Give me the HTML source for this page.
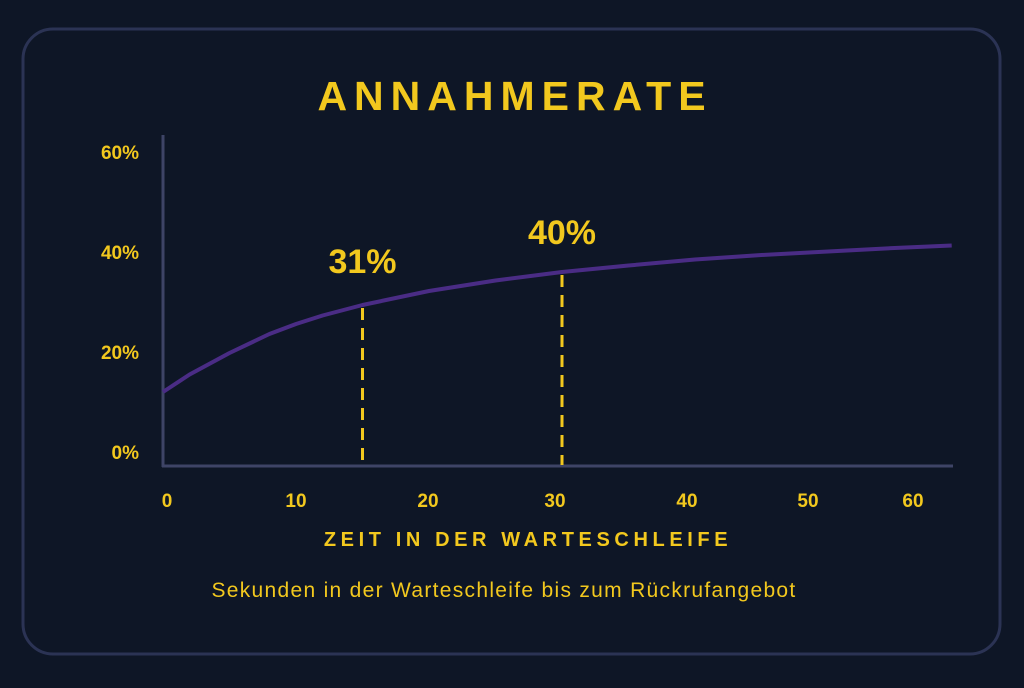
<!DOCTYPE html>
<html><head><meta charset="utf-8"><style>
html,body{margin:0;padding:0;background:#0e1626;}
body{width:1024px;height:683px;overflow:hidden;font-family:"Liberation Sans",sans-serif;}
</style></head><body>
<svg id="chart" width="1024" height="683" viewBox="0 0 1024 683" xmlns="http://www.w3.org/2000/svg">
<rect x="0" y="0" width="1024" height="683" fill="#0e1626"/>
<rect x="23" y="29" width="977" height="625" rx="30" fill="none" stroke="#2b3354" stroke-width="3"/>
<text x="515" y="110" text-anchor="middle" fill="#f2c81e" font-size="41" font-weight="bold" letter-spacing="7">ANNAHMERATE</text>
<text x="528" y="546" text-anchor="middle" fill="#f2c81e" font-size="20" font-weight="bold" letter-spacing="4.6">ZEIT IN DER WARTESCHLEIFE</text>
<text x="504" y="597" text-anchor="middle" fill="#f2c81e" font-size="21" letter-spacing="1.3">Sekunden in der Warteschleife bis zum Rückrufangebot</text>
<g id="plot"></g>
</svg>
<script>
const xTicks=[0,10,20,30,40,50,60];
const xTickPos=[167,296,428,555,687,808,913];
const yTicks=[0,20,40,60];
const curveX=[0,2,5,8,10,12,15,20,25,30,35,40,45,50,55,59.3];
const curveY=[12,15.5,19.8,23.6,25.6,27.3,29.4,32.2,34.3,36,37.3,38.5,39.4,40.1,40.8,41.3];
const markerX=[15,30];
const markerLabels=["31%","40%"];
const NS="http://www.w3.org/2000/svg";
const g=document.getElementById('plot');
const x=v=>163+v*13.3;
const y=p=>452-p*5;
function mk(t,a){const e=document.createElementNS(NS,t);for(const k in a)e.setAttribute(k,a[k]);g.appendChild(e);return e;}
let e=mk('line',{x1:163,y1:135,x2:163,y2:467,stroke:'#3e4466','stroke-width':3});


e=mk('line',{x1:162,y1:466,x2:953,y2:466,stroke:'#3e4466','stroke-width':3});


yTicks.forEach(t=>{const el=mk('text',{x:139,y:y(t)+7,'text-anchor':'end',fill:'#f2c81e','font-size':19,'font-weight':'bold'});el.textContent=t+'%';

});
xTicks.forEach((t,i)=>{const el=mk('text',{x:xTickPos[i],y:507,'text-anchor':'middle',fill:'#f2c81e','font-size':19,'font-weight':'bold'});el.textContent=t;

});
function interp(v){for(let i=0;i<curveX.length-1;i++){if(v<=curveX[i+1]){const f=(v-curveX[i])/(curveX[i+1]-curveX[i]);return curveY[i]+f*(curveY[i+1]-curveY[i]);}}return curveY[curveY.length-1];}
markerX.forEach((m,i)=>{const py=y(interp(m));
const l=mk('line',{x1:x(m),y1:py+3,x2:x(m),y2:465,stroke:'#f2c81e','stroke-width':3,'stroke-dasharray':'12 8'});


const t=mk('text',{x:x(m),y:i==0?py-32:py-28,'text-anchor':'middle',fill:'#f2c81e','font-size':34,'font-weight':'bold'});t.textContent=markerLabels[i];

});
let d='';curveX.forEach((v,i)=>{d+=(i?'L':'M')+x(v).toFixed(1)+','+y(curveY[i]).toFixed(1);});
const p=mk('path',{d:d,fill:'none',stroke:'#4a2c85','stroke-width':4,'stroke-linejoin':'round'});


</script>
</body></html>
